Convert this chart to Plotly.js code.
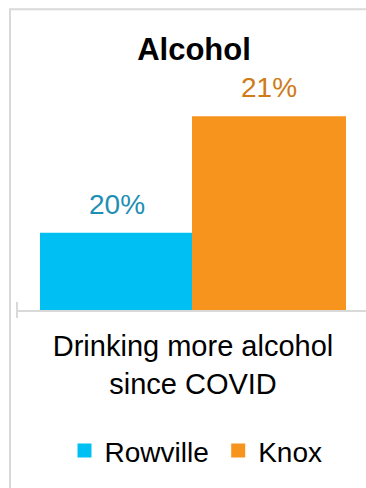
<!DOCTYPE html>
<html>
<head>
<meta charset="utf-8">
<script src="https://cdn.plot.ly/plotly-3.0.1.min.js"></script>
<style>
  html, body { margin: 0; padding: 0; background: #ffffff; }
  #chart { width: 366px; height: 488px; }
</style>
</head>
<body>
<div id="chart"></div>
<script>
// ---- data ----
const categories = ['Drinking more alcohol<br>since COVID'];
const seriesNames = ['Rowville', 'Knox'];
const rowvilleValues = [20];
const knoxValues = [21];
const chartTitle = 'Alcohol';

// ---- styles ----
const barColors = ['#00BFF3', '#F7941D'];
const labelColors = ['#1E8FB4', '#D07A18'];
const FONT = '"Liberation Sans", Arial, sans-serif';
const GRID = '#D9D9D9';
const bargap = 0.1364;
const legendIds = ['legend', 'legend2'];
const legendX = [0.1361, 0.5765];

const seriesValues = [rowvilleValues, knoxValues];

const traces = seriesValues.map((vals, i) => ({
  type: 'bar',
  name: seriesNames[i],
  x: categories,
  y: vals,
  legend: legendIds[i],
  marker: { color: barColors[i], line: { color: barColors[i], width: 2 } },
  hoverinfo: 'skip'
}));

// data labels placed through the axes at each bar's value
const half = (1 - bargap) / 4;
const annotations = [];
seriesValues.forEach((vals, i) => {
  vals.forEach((v, j) => {
    annotations.push({
      x: j + (i === 0 ? -half : half),
      y: v,
      xref: 'x', yref: 'y',
      text: v + '%',
      showarrow: false,
      yanchor: 'bottom',
      yshift: 12,
      font: { family: FONT, size: 28, color: labelColors[i] }
    });
  });
});

const layout = {
  width: 366,
  height: 488,
  margin: { l: 17, r: 0, t: 100, b: 178, pad: 0 },
  paper_bgcolor: '#ffffff',
  plot_bgcolor: 'rgba(0,0,0,0)',
  barmode: 'group',
  bargap: bargap,
  bargroupgap: 0,
  showlegend: true,
  title: {
    text: '<b>' + chartTitle + '</b>',
    font: { family: FONT, size: 31, color: '#000000' },
    xref: 'container', x: 194 / 366, xanchor: 'center',
    yref: 'container', y: 1 - 49 / 488, yanchor: 'middle'
  },
  xaxis: {
    type: 'category',
    range: [-0.5, 0.4915],
    showline: true,
    linecolor: GRID,
    linewidth: 2,
    layer: 'above traces',
    ticks: '',
    ticklabelstandoff: 9,
    showgrid: false,
    zeroline: false,
    tickfont: { family: FONT, size: 29, color: '#000000' },
    fixedrange: true
  },
  yaxis: {
    range: [19.347, 21.147],
    visible: false,
    showgrid: false,
    zeroline: false,
    fixedrange: true
  },
  annotations: annotations,
  shapes: [
    { type: 'line', xref: 'paper', yref: 'paper', x0: 0, x1: 0, y0: 8 / 210, y1: -8 / 210,
      line: { color: GRID, width: 2 } },
    { type: 'rect', xref: 'paper', yref: 'paper', x0: -7 / 349, x1: 1.2, y0: -1, y1: (310 - 9.3) / 210,
      line: { color: GRID, width: 2 }, fillcolor: 'rgba(0,0,0,0)' }
  ]
};

legendIds.forEach((id, i) => {
  layout[id] = {
    orientation: 'h',
    x: legendX[i], xanchor: 'left',
    y: -0.671, yanchor: 'middle',
    font: { family: FONT, size: 28, color: '#000000' },
    bgcolor: 'rgba(0,0,0,0)'
  };
});

Plotly.newPlot('chart', traces, layout, { displayModeBar: false, staticPlot: true });
</script>
</body>
</html>
